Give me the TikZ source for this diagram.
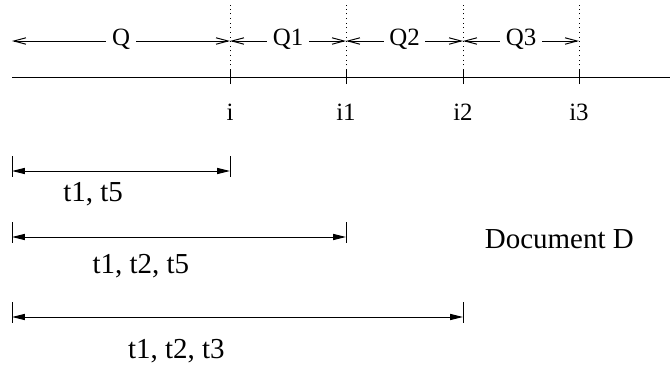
\documentclass[tikz,border=0pt]{standalone}
\usepackage{fontspec}
\setmainfont{Liberation Serif}
\usetikzlibrary{arrows.meta}

\begin{document}
\begin{tikzpicture}[font=\fontsize{17.7}{21}\selectfont,
 axis/.style={line width=.7pt},
 guide/.style={line width=.7pt,dash pattern=on .7pt off 2.6pt},
 span/.style={{Straight Barb[length=3mm,width=1.6mm]}-{Straight Barb[length=3mm,width=1.6mm]},line width=.7pt},
 spanlabel/.style={fill=white,inner xsep=1.4mm,inner ysep=0pt,text height=1.5ex,text depth=0pt},
 extent/.style={{Triangle[length=3.2mm,width=1.5mm]}-{Triangle[length=3.2mm,width=1.5mm]},line width=.7pt},
 big/.style={font=\fontsize{20.6}{24}\selectfont}]
\path[use as bounding box] (0,0) rectangle (16.8,9.225);
% Index axis with its dotted boundaries.
\coordinate (ax0) at (0.3,7.3);
\coordinate (ax1) at (16.75,7.3);
\draw[axis] (ax0) -- (ax1);
\foreach \x/\n/\t in {5.75/i/i, 8.65/ia/i1, 11.575/ib/i2, 14.475/ic/i3} {
  \coordinate (\n) at (\x,7.3);
  \draw[axis] (\n) ++(0,-.175) -- ++(0,.35);
  \draw[guide] (\n) ++(0,.175) -- ++(0,1.625);
  \node[anchor=base] (lab-\n) at (\x,6.22) {\t};
}
% Query ranges between the boundaries.
\coordinate (q0) at (0.3,8.2);
\coordinate (q1) at (5.75,8.2);
\coordinate (q2) at (8.65,8.2);
\coordinate (q3) at (11.575,8.2);
\coordinate (q4) at (14.475,8.2);
\draw[span] (q0) -- node[spanlabel] (Q) {Q} (q1);
\draw[span] (q1) -- node[spanlabel] (Qa) {Q1} (q2);
\draw[span] (q2) -- node[spanlabel] (Qb) {Q2} (q3);
\draw[span] (q3) -- node[spanlabel] (Qc) {Q3} (q4);
% Extents of the terms in the document.
\foreach \y/\xe/\n in {4.95/5.75/1, 3.3/8.65/2, 1.3/11.575/3} {
  \coordinate (d\n a) at (0.3,\y);
  \coordinate (d\n b) at (\xe,\y);
  \draw[extent] (d\n a) -- (d\n b);
  \draw[axis] (d\n a) ++(0,.375) -- ++(0,-.525);
  \draw[axis] (d\n b) ++(0,.375) -- ++(0,-.525);
}
\node[big,anchor=base west] (w1) at (1.46,4.2) {t1, t5};
\node[big,anchor=base west] (w2) at (2.19,2.4) {t1, t2, t5};
\node[big,anchor=base west] (w3) at (3.08,0.275) {t1, t2, t3};
\node[big,anchor=base west] (doc) at (12.0,3.025) {Document D};
\end{tikzpicture}
\end{document}
